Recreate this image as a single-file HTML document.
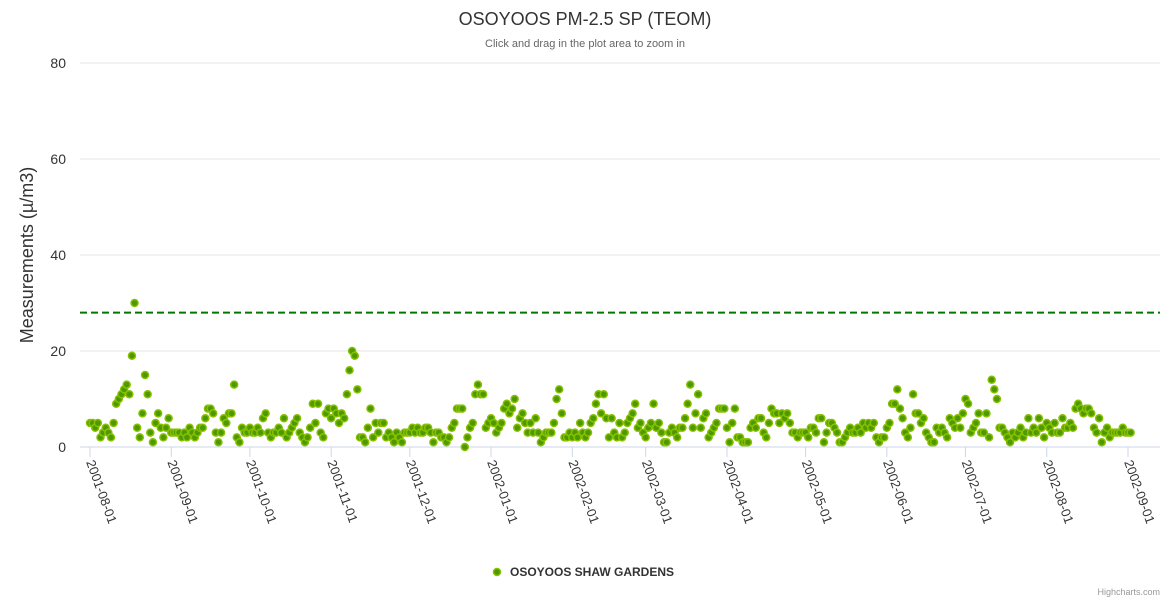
<!DOCTYPE html>
<html><head><meta charset="utf-8"><style>
body{margin:0;background:#fff;font-family:"Liberation Sans",sans-serif}
svg text{font-family:"Liberation Sans",sans-serif}
</style></head><body>
<svg id="c" width="1170" height="600">
<text x="585" y="25" text-anchor="middle" font-size="18" fill="#333">OSOYOOS PM-2.5 SP (TEOM)</text>
<text x="585" y="47" text-anchor="middle" font-size="11" fill="#666">Click and drag in the plot area to zoom in</text>
<text transform="translate(33,255) rotate(-90)" text-anchor="middle" font-size="18" fill="#333">Measurements (µ/m3)</text>
<g id="grid"></g><g id="xax"></g><g id="pts"></g>
<g>
<circle cx="497" cy="572" r="3.5" fill="#4c9a00" stroke="#88c000" stroke-width="1.5"/>
<text x="510" y="576" font-size="12" font-weight="bold" fill="#333">OSOYOOS SHAW GARDENS</text></g>
<text x="1160" y="595" text-anchor="end" font-size="9" fill="#999">Highcharts.com</text>
</svg>
<script>
const yTicks=[0,20,40,60,80];
const xTickLabels=["2001-08-01","2001-09-01","2001-10-01","2001-11-01","2001-12-01","2002-01-01","2002-02-01","2002-03-01","2002-04-01","2002-05-01","2002-06-01","2002-07-01","2002-08-01","2002-09-01"];
const startDate="2001-08-01";
const threshold=28;
const values=[
5,5,4,5,2,3,4,3,2,5,9,10,11,12,13,11,19,30,4,2,7,15,11,3,1,5,7,4,2,4,6,
3,3,3,3,2,3,2,4,3,2,3,4,4,6,8,8,7,3,1,3,6,5,7,7,13,2,1,4,3,3,
4,3,3,4,3,6,7,3,2,3,3,4,3,6,2,3,4,5,6,3,2,1,2,4,9,5,9,3,2,7,8,
6,8,7,5,7,6,11,16,20,19,12,2,2,1,4,8,2,5,3,5,5,2,3,2,1,3,2,1,3,3,
3,4,3,4,3,3,4,4,3,1,3,3,2,2,1,2,4,5,8,8,8,0,2,4,5,11,13,11,11,4,5,
6,5,3,4,5,8,9,7,8,10,4,6,7,5,3,5,3,6,3,1,2,3,3,3,5,10,12,7,2,2,3,
2,3,2,5,3,2,3,5,6,9,11,7,11,6,2,6,3,2,5,2,3,5,6,7,9,4,5,3,
2,4,5,9,4,5,3,1,1,3,4,3,2,4,4,6,9,13,4,7,11,4,6,7,2,3,4,5,8,8,8,
4,1,5,8,2,2,1,1,1,4,5,4,6,6,3,2,5,8,7,7,5,7,6,7,5,3,3,2,3,3,
3,2,4,4,3,6,6,1,3,5,5,4,3,1,1,2,3,4,3,3,4,3,5,4,5,4,5,2,1,2,2,
4,5,9,9,12,8,6,3,2,4,11,7,7,5,6,3,2,1,1,4,3,4,3,2,6,5,4,6,4,7,
10,9,3,4,5,7,3,3,7,2,14,12,10,4,4,3,2,1,3,2,3,4,2,3,6,3,4,3,6,4,2,
5,4,3,5,3,3,6,4,4,5,4,8,9,8,7,8,8,7,4,3,6,1,3,4,2,3,3,3,3,4,3,
3,3];
const NS="http://www.w3.org/2000/svg";
const day=86400000, t0=Date.parse(startDate), t1=Date.parse("2002-09-01");
const X=t=>90+(t-t0)/(t1-t0)*1038;
const Y=v=>447-v*4.8;
function mk(tag,at,par){const e=document.createElementNS(NS,tag);for(const k in at)e.setAttribute(k,at[k]);document.getElementById(par).appendChild(e);return e;}
yTicks.forEach(v=>{
 const l=mk('line',{x1:80,x2:1160,y1:Y(v),y2:Y(v),stroke:v?'#e6e6e6':'#ccd6eb'},'grid');
 
 
 const t=mk('text',{x:66,y:Y(v)+5,'text-anchor':'end','font-size':14,fill:'#333'},'grid');t.textContent=v;
 
 
});
const th=mk('line',{x1:80,x2:1160,y1:Y(threshold),y2:Y(threshold),stroke:'#007700','stroke-width':2,'stroke-dasharray':'7,4'},'grid');


xTickLabels.forEach(s=>{
 const x=X(Date.parse(s));
 const tk=mk('line',{x1:x,x2:x,y1:447,y2:457,stroke:'#ccd6eb'},'xax');
 
 
 const t=mk('text',{transform:`translate(${x-4},${462}) rotate(70)`,'font-size':13,fill:'#333'},'xax');t.textContent=s;
 
 
});
values.forEach((v,i)=>{
 const c=mk('circle',{cx:X(t0+i*day),cy:Y(v),r:3.5,fill:'#4c9a00',stroke:'#88c000','stroke-width':1.5},'pts');
 
 
});
</script>
</body></html>
